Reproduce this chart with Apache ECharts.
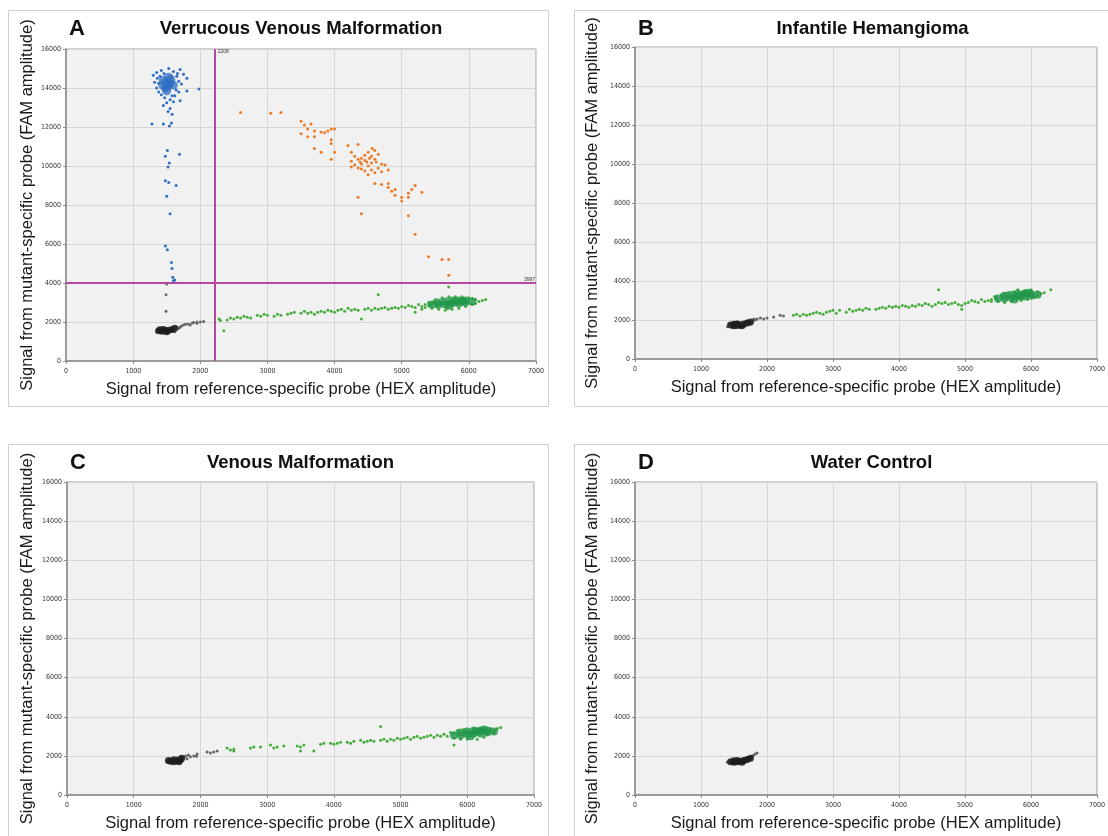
<!DOCTYPE html>
<html>
<head>
<meta charset="utf-8">
<title>ddPCR droplet plots</title>
<script src="https://cdn.jsdelivr.net/npm/echarts@6/dist/echarts.min.js"></script>
<style>
html, body { margin: 0; padding: 0; background: #fff; }
#main { width: 1108px; height: 836px; }
</style>
</head>
<body>
<div id="main"></div>
<script>
// 面板文字
var panelLetters = ['A', 'B', 'C', 'D'];
var panelTitles = ['Verrucous Venous Malformation', 'Infantile Hemangioma', 'Venous Malformation', 'Water Control'];
var xAxisName = 'Signal from reference-specific probe (HEX amplitude)';
var yAxisName = 'Signal from mutant-specific probe (FAM amplitude)';
var xTicks = [0, 1000, 2000, 3000, 4000, 5000, 6000, 7000];
var yTicks = [0, 2000, 4000, 6000, 8000, 10000, 12000, 14000, 16000];
var thresholdX = 2208;
var thresholdY = 3997;

// A: Verrucous Venous Malformation
var aBlueCore = [[1450,14400],[1500,14300],[1550,14250],[1520,14100],[1480,14000],[1560,14450],[1600,14150],[1440,14150],[1530,14550],[1500,13850]];
var aBlue = [[1300,14650],[1350,14800],[1420,14900],[1530,15000],[1600,14850],[1700,14950],[1750,14700],[1650,14600],[1400,14600],[1320,14300],
  [1350,14000],[1380,13800],[1420,13650],[1470,13500],[1550,13400],[1620,13600],[1680,13800],[1720,14200],[1800,14500],[1800,13850],
  [1980,13950],[1700,13350],[1600,13300],[1500,13250],[1450,13100],[1550,12950],[1520,12800],[1580,12650],[1280,12150],[1450,12150],
  [1540,12050],[1570,12200],[1510,10800],[1480,10500],[1690,10600],[1540,10150],[1520,9950],[1480,9250],[1530,9150],[1640,9000],
  [1500,8450],[1550,7550],[1480,5900],[1510,5700],[1570,5050],[1580,4750],[1590,4300],[1620,4150],[1600,4120],[1360,14500],
  [1680,14350],[1640,13900],[1380,14250],[1460,14750],[1580,13600],[1660,14750]];
var aOrange = [[2600,12750],[3050,12700],[3200,12750],[3500,12300],[3550,12100],[3600,11900],[3650,12150],[3700,11800],[3800,11750],[3900,11800],
  [3950,11900],[4000,11900],[3500,11650],[3600,11500],[3700,11500],[3850,11700],[3950,11350],[3950,11150],[3700,10900],[3800,10700],
  [4000,10700],[3950,10350],[4200,11050],[4350,11100],[4250,10700],[4300,10500],[4400,10400],[4450,10300],[4550,10150],[4500,10000],
  [4600,10350],[4400,10100],[4250,10250],[4300,10050],[4350,9900],[4400,9850],[4450,9750],[4550,9800],[4650,9900],[4700,10100],
  [4750,10050],[4650,10600],[4600,10800],[4500,10700],[4550,10500],[4450,10550],[4350,10350],[4250,9950],[4700,9700],[4800,9800],
  [4600,9650],[4500,9550],[4560,10900],[4480,10200],[4620,10200],[4380,10200],[4520,10400],[4600,9100],[4700,9050],[4800,9100],
  [4800,8900],[4850,8700],[4900,8800],[4900,8500],[5000,8400],[5000,8200],[5100,8400],[5100,8600],[5150,8800],[5200,9000],
  [5300,8650],[4350,8400],[4400,7550],[5100,7450],[5200,6500],[5400,5350],[5600,5200],[5700,5200],[5700,4400]];
var aBlackCore = [[1380,1550],[1430,1520],[1480,1560],[1530,1580],[1450,1620],[1580,1620],[1620,1680],[1400,1600],[1500,1500]];
var aBlack = [[1350,1500],[1380,1650],[1500,1450],[1620,1500],[1650,1720],[1700,1750],[1720,1800],[1750,1850],[1680,1680],[1780,1880],
  [1820,1900],[1880,1950],[1900,1980],[1950,2000],[2000,2000],[2050,2020],[1950,1930],[1850,1850],[1500,3950],[1490,3400],[1490,2550]];
var aGreenCore = [[5450,2900],[5550,2880],[5550,3000],[5650,2900],[5650,3050],[5750,2950],[5750,3100],[5850,2950],[5850,3100],[5950,3000],
  [5950,3100],[6050,3050],[5700,2850],[5800,3050],[5900,3050]];
var aGreen = [[2280,2150],[2300,2080],[2350,1550],[2400,2100],[2450,2200],[2500,2150],[2550,2250],[2600,2200],[2650,2300],[2700,2250],
  [2750,2200],[2850,2350],[2900,2300],[2950,2400],[3000,2350],[3100,2300],[3150,2400],[3200,2350],[3300,2400],[3350,2450],
  [3400,2500],[3500,2450],[3550,2550],[3600,2450],[3650,2500],[3700,2400],[3750,2500],[3800,2550],[3850,2500],[3900,2600],
  [3950,2550],[4000,2500],[4050,2600],[4100,2650],[4150,2550],[4200,2700],[4250,2600],[4300,2650],[4350,2600],[4400,2150],
  [4450,2650],[4500,2700],[4550,2600],[4600,2700],[4650,3400],[4650,2650],[4700,2700],[4750,2750],[4800,2650],[4850,2700],
  [4900,2750],[4950,2700],[5000,2800],[5050,2750],[5100,2850],[5150,2800],[5200,2750],[5250,2900],[5300,2800],[5300,2650],
  [5350,2900],[5400,2850],[5450,2950],[5200,2500],[5700,3800],[5350,2750],[5400,3000],[5450,2700],[5500,3150],[5550,2650],
  [5600,3250],[5650,2600],[5700,3300],[5750,2650],[5800,3300],[5850,2700],[5900,3300],[5950,2800],[6000,3250],[6050,2900],
  [6100,3150],[6150,3050],[6200,3100],[6250,3150],[6100,2950],[5420,2850],[5480,3050],[5520,2780],[6050,3200],[5680,2700]];

// B: Infantile Hemangioma
var bBlackCore = [[1450,1750],[1500,1700],[1550,1720],[1600,1760],[1650,1800],[1700,1850],[1550,1800],[1500,1780],[1620,1700],[1750,1900]];
var bBlack = [[1400,1650],[1420,1800],[1480,1620],[1600,1650],[1650,1680],[1750,1900],[1780,1950],[1800,2050],[1820,2000],[1750,1800],
  [1700,1950],[1850,2050],[1900,2100],[1950,2050],[2000,2100],[2100,2150],[2200,2250],[2250,2200],[1550,1900],[1500,1850]];
var bGreenCore = [[5500,3100],[5600,3100],[5600,3250],[5700,3150],[5700,3300],[5800,3200],[5800,3350],[5900,3200],[5900,3350],[6000,3250],
  [6000,3350],[6100,3300],[5750,3050],[5850,3250],[5950,3400]];
var bGreen = [[2400,2250],[2450,2300],[2500,2200],[2550,2300],[2600,2250],[2650,2300],[2700,2350],[2750,2400],[2800,2350],[2850,2300],
  [2900,2400],[2950,2450],[3000,2500],[3050,2350],[3100,2500],[3200,2400],[3250,2550],[3300,2450],[3350,2500],[3400,2550],
  [3450,2500],[3500,2600],[3550,2550],[3650,2550],[3700,2600],[3750,2650],[3800,2600],[3850,2700],[3900,2650],[3950,2700],
  [4000,2650],[4050,2750],[4100,2700],[4150,2650],[4200,2750],[4250,2700],[4300,2800],[4350,2750],[4400,2850],[4450,2800],
  [4500,2700],[4550,2800],[4600,3550],[4600,2900],[4650,2850],[4700,2900],[4750,2800],[4800,2850],[4850,2900],[4900,2800],
  [4950,2550],[4950,2750],[5000,2850],[5050,2900],[5100,3000],[5150,2950],[5200,2900],[5250,3050],[5300,2950],[5350,3000],
  [5400,2950],[6300,3550],[5400,3050],[5450,3200],[5500,2950],[5550,3300],[5600,2900],[5650,3400],[5700,2950],[5800,3550],
  [5850,3000],[5900,3500],[5950,3050],[6000,3550],[6050,3150],[6100,3450],[6150,3350],[6200,3400],[5480,3100],[6100,3250],
  [5750,3450],[5600,3350]];

// C: Venous Malformation
var cBlackCore = [[1550,1720],[1600,1700],[1650,1750],[1700,1800],[1600,1800],[1720,1880],[1520,1760],[1680,1700]];
var cBlack = [[1500,1700],[1520,1780],[1560,1650],[1650,1680],[1700,1750],[1750,1950],[1780,2000],[1800,1850],[1820,2050],[1850,1950],
  [1900,2000],[1950,2100],[1940,1980],[1700,1950],[1650,1900],[2150,2150],[2200,2200],[2250,2250],[2100,2200]];
var cGreenCore = [[5800,3050],[5900,3050],[5900,3200],[6000,3100],[6000,3250],[6100,3150],[6100,3300],[6200,3150],[6200,3300],[6300,3200],
  [6300,3300],[6400,3250],[6050,3000],[6150,3250],[6250,3350]];
var cGreen = [[2400,2400],[2450,2300],[2500,2250],[2500,2350],[2750,2400],[2800,2450],[2900,2450],[3050,2550],[3100,2400],[3150,2450],
  [3250,2500],[3450,2500],[3500,2450],[3500,2250],[3550,2550],[3700,2250],[3800,2600],[3850,2650],[3950,2650],[4000,2600],
  [4050,2650],[4100,2700],[4200,2700],[4250,2650],[4300,2750],[4400,2800],[4450,2700],[4500,2750],[4550,2800],[4600,2750],
  [4700,3500],[4700,2800],[4750,2850],[4800,2750],[4850,2850],[4900,2800],[4950,2900],[5000,2850],[5050,2900],[5100,2950],
  [5150,2850],[5200,2950],[5250,3000],[5300,2900],[5350,2950],[5400,3000],[5450,3050],[5500,2950],[5550,3050],[5600,3000],
  [5650,3100],[5800,2550],[5700,3000],[5750,3200],[5800,2900],[5850,3300],[5900,2850],[5950,3350],[6000,2850],[6100,3400],
  [6200,3400],[6300,3100],[6400,3300],[6450,3400],[6500,3450],[6350,3400],[6250,2950],[6150,2850],[5800,3150],[6400,3200]];

// D: Water Control
var dBlackCore = [[1450,1700],[1500,1680],[1550,1700],[1600,1720],[1650,1760],[1700,1820],[1750,1880],[1550,1760],[1620,1680],[1500,1750]];
var dBlack = [[1400,1680],[1420,1750],[1450,1620],[1550,1620],[1650,1650],[1700,1750],[1750,1950],[1780,2000],[1800,2050],[1850,2150],
  [1820,2100],[1760,1850],[1700,1900],[1650,1850],[1580,1820]];

var myChart = echarts.init(document.getElementById('main'));

var grids = [
  { left: 66, top: 49, width: 470, height: 312 },
  { left: 635, top: 47, width: 467, height: 312 },
  { left: 67, top: 482, width: 467, height: 313 },
  { left: 635, top: 482, width: 465, height: 313 }
];
var boxes = [[8, 10], [574, 10], [8, 444], [574, 444]];
var yNameGap = [30, 34, 31, 34];

function scatter(gi, data, color, size, opacity) {
  return {
    type: 'scatter', xAxisIndex: gi, yAxisIndex: gi, data: data,
    symbolSize: size, silent: true, animation: false,
    itemStyle: { color: color, opacity: opacity }
  };
}

function plainNum(v) { return String(v); }

var xAxes = [], yAxes = [], gridOpts = [], graphics = [];
for (var i = 0; i < 4; i++) {
  var g = grids[i];
  gridOpts.push({ left: g.left, top: g.top, width: g.width, height: g.height, show: true,
    backgroundColor: '#f1f1f1', borderColor: '#a0a0a0', borderWidth: 1 });
  xAxes.push({
    gridIndex: i, type: 'value', min: xTicks[0], max: xTicks[xTicks.length - 1], interval: 1000,
    name: xAxisName, nameLocation: 'middle', nameGap: 20,
    nameTextStyle: { fontSize: 16.5, color: '#1a1a1a', fontFamily: 'Liberation Sans' },
    axisLine: { lineStyle: { color: '#8a8a8a', width: 1.5 } },
    axisTick: { length: 3, lineStyle: { color: '#8a8a8a' } },
    axisLabel: { fontSize: 7, color: '#333', margin: 7, fontFamily: 'DejaVu Sans Condensed', formatter: plainNum },
    splitLine: { lineStyle: { color: '#d6d6d6', width: 1 } }
  });
  yAxes.push({
    gridIndex: i, type: 'value', min: yTicks[0], max: yTicks[yTicks.length - 1], interval: 2000,
    name: yAxisName, nameLocation: 'middle', nameRotate: 90, nameGap: yNameGap[i],
    nameTextStyle: { fontSize: 16.5, color: '#1a1a1a', fontFamily: 'Liberation Sans' },
    axisLine: { lineStyle: { color: '#8a8a8a', width: 1.5 } },
    axisTick: { length: 3, lineStyle: { color: '#8a8a8a' } },
    axisLabel: { fontSize: 7, color: '#333', margin: 5, fontFamily: 'DejaVu Sans Condensed', formatter: plainNum },
    splitLine: { lineStyle: { color: '#d6d6d6', width: 1 } }
  });
  graphics.push({ type: 'rect', silent: true, z: -1,
    shape: { x: boxes[i][0] + 0.5, y: boxes[i][1] + 0.5, width: 540, height: 396 },
    style: { fill: 'none', stroke: '#cfcfcf', lineWidth: 1 } });
  graphics.push({ type: 'text', x: g.left + 11, y: boxes[i][1] + 19, silent: true,
    style: { text: panelLetters[i], font: 'bold 22px "Liberation Sans"', fill: '#111', textAlign: 'center', textVerticalAlign: 'middle' } });
  graphics.push({ type: 'text', x: g.left + g.width / 2 + (i % 2 ? 4 : 0), y: boxes[i][1] + 19, silent: true,
    style: { text: panelTitles[i], font: 'bold 18.5px "Liberation Sans"', fill: '#111', textAlign: 'center', textVerticalAlign: 'middle' } });
}

var blue = '#2f6fc2', orange = '#ee7a24', green = '#44ad3c', greenCore = '#1f9648', black = '#1c1c1c', gray = '#666';

var aBlueSeries = scatter(0, aBlue, blue, 3, 1);
aBlueSeries.markLine = {
  silent: true, symbol: 'none', animation: false,
  lineStyle: { color: '#b8479f', width: 2, type: 'solid' },
  label: { show: true, fontSize: 5, color: '#333', formatter: '{c}' },
  data: [
    { xAxis: thresholdX, label: { position: 'end', offset: [9, 10] } },
    { yAxis: thresholdY, label: { position: 'insideEndTop', distance: 1 } }
  ]
};

var series = [
  aBlueSeries,
  scatter(0, aBlueCore, blue, 9, 0.75),
  scatter(0, aOrange, orange, 3, 1),
  scatter(0, aBlack, gray, 3, 1),
  scatter(0, aBlackCore, black, 7, 0.85),
  scatter(0, aGreen, green, 3, 1),
  scatter(0, aGreenCore, greenCore, 8, 0.8),
  scatter(1, bBlack, gray, 3, 1),
  scatter(1, bBlackCore, black, 7, 0.85),
  scatter(1, bGreen, green, 3, 1),
  scatter(1, bGreenCore, greenCore, 8, 0.8),
  scatter(2, cBlack, gray, 3, 1),
  scatter(2, cBlackCore, black, 7, 0.85),
  scatter(2, cGreen, green, 3, 1),
  scatter(2, cGreenCore, greenCore, 8, 0.8),
  scatter(3, dBlack, gray, 3, 1),
  scatter(3, dBlackCore, black, 7, 0.85)
];

var option = {
  backgroundColor: '#fff',
  animation: false,
  grid: gridOpts,
  xAxis: xAxes,
  yAxis: yAxes,
  graphic: graphics,
  series: series
};

myChart.setOption(option);
</script>
</body>
</html>
